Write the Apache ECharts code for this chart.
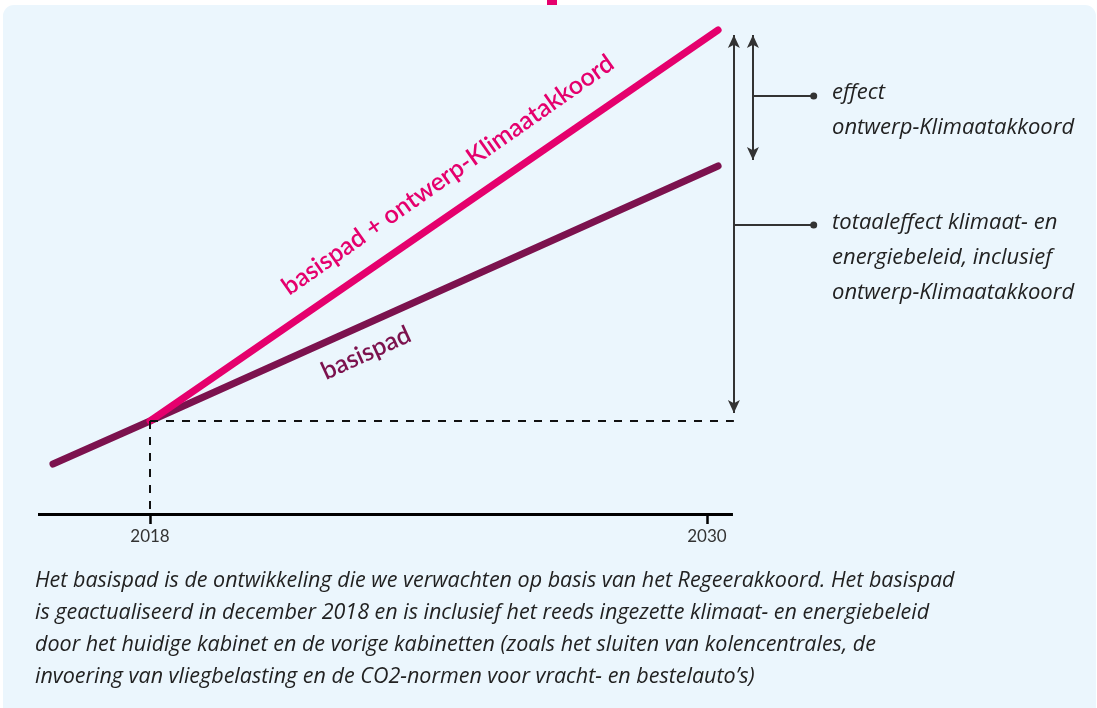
<!DOCTYPE html>
<html><head><meta charset="utf-8">
<script src="https://cdn.jsdelivr.net/npm/echarts@6/dist/echarts.min.js"></script>
<style>html,body{margin:0;padding:0;background:#fff}#c{width:1097px;height:708px}</style>
</head><body><div id="c"></div>
<script>
// ---- data ----
const years = [2015.91, 2018, 2030.24];
const basispad = [50, 93, 348];
const klimaat = [null, 93, 484];
const tickYears = [2018, 2030];
const lineLabels = ['basispad + ontwerp-Klimaatakkoord', 'basispad'];
const note1 = ['effect', 'ontwerp-Klimaatakkoord'];
const note2 = ['totaaleffect klimaat- en', 'energiebeleid, inclusief', 'ontwerp-Klimaatakkoord'];
const caption = [
 'Het basispad is de ontwikkeling die we verwachten op basis van het Regeerakkoord. Het basispad',
 'is geactualiseerd in december 2018 en is inclusief het reeds ingezette klimaat- en energiebeleid',
 'door het huidige kabinet en de vorige kabinetten (zoals het sluiten van kolencentrales, de',
 'invoering van vliegbelasting en de CO2-normen voor vracht- en bestelauto’s)'
];

const PURPLE = '#7c124e', MAGENTA = '#e5006d';
const FONT = 'Lato';
const TFONT = '"Open Sans"';
const xMin = 2015.587, xMax = 2032.5, axisEnd = 2030.56;
const xTotal = 2030.58, xEffect = 2030.99, xDot = 2032.3;
const pair = (xs, ys) => xs.map((x, i) => ys[i] == null ? null : [x, ys[i]]).filter(d => d);

const chart = echarts.init(document.getElementById('c'), null, {renderer: 'canvas'});
const dashed = {type: [8, 8], color: '#111', width: 2};
const arrowStyle = {color: '#333', width: 2, type: 'solid'};
const option = {
  animation: false,
  grid: {left: 38, right: 1097 - 823, top: 14, bottom: 194},
  xAxis: {type: 'value', min: xMin, max: xMax,
    axisLine: {show: false}, splitLine: {show: false},
    axisTick: {show: true, customValues: tickYears, length: 10, lineStyle: {color: '#000', width: 2.5}},
    axisLabel: {customValues: tickYears, formatter: v => String(v), margin: 14, fontFamily: FONT, fontSize: 17, color: '#333'}
  },
  yAxis: {type: 'value', min: 0, max: 500, show: false},
  graphic: [],
  series: [
    {type: 'line', name: 'basispad', data: pair(years, basispad), showSymbol: false, silent: true, z: 3,
     lineStyle: {color: PURPLE, width: 7, cap: 'round'},
     markLine: {silent: true, symbol: 'none', label: {show: false}, animation: false,
       data: [
         [{coord: [2018, basispad[1]], lineStyle: dashed}, {coord: [xTotal, basispad[1]]}],
         [{coord: [2018, basispad[1]], lineStyle: dashed}, {coord: [2018, 0]}],
         [{coord: [xMin, 0], lineStyle: {type: 'solid', color: '#000', width: 3}}, {coord: [axisEnd, 0]}]
       ]}
    },
    {type: 'line', name: 'klimaat', data: pair(years, klimaat), showSymbol: false, silent: true, z: 4,
     lineStyle: {color: MAGENTA, width: 7, cap: 'round'},
     markLine: {silent: true, label: {show: false}, animation: false,
       symbol: ['arrow', 'arrow'], symbolSize: [9, 13],
       itemStyle: {color: '#000'},
       data: [
         [{coord: [xTotal, 479], lineStyle: arrowStyle}, {coord: [xTotal, 101]}],
         [{coord: [xEffect, 479], lineStyle: arrowStyle}, {coord: [xEffect, 354]}],
         [{coord: [xEffect, 418], lineStyle: arrowStyle, symbol: 'none'}, {coord: [xDot, 418], symbol: 'circle', symbolSize: 7}],
         [{coord: [xTotal, 289], lineStyle: arrowStyle, symbol: 'none'}, {coord: [xDot, 289], symbol: 'circle', symbolSize: 7}]
       ]}
    }
  ]
};
chart.setOption(option);

const deg = d => d * Math.PI / 180;
const g = [
  {type: 'rect', z: -10, shape: {x: 3, y: 5, width: 1093, height: 720, r: 11}, style: {fill: '#ebf6fd'}},
  {type: 'rect', z: -10, shape: {x: 547, y: 0, width: 10, height: 5}, style: {fill: MAGENTA}},
  {type: 'text', x: 448, y: 175, rotation: deg(35), style: {text: lineLabels[0], fill: MAGENTA, font: '600 25px ' + FONT, align: 'center', verticalAlign: 'middle'}},
  {type: 'text', x: 366, y: 353, rotation: deg(24.5), style: {text: lineLabels[1], fill: PURPLE, font: '600 25px ' + FONT, align: 'center', verticalAlign: 'middle'}}
];
note1.forEach((t, i) => g.push({type: 'text', x: 832, y: 93 + i * 35, style: {text: t, fill: '#222', font: 'italic 22px ' + TFONT, verticalAlign: 'middle'}}));
note2.forEach((t, i) => g.push({type: 'text', x: 832, y: 223 + i * 35, style: {text: t, fill: '#222', font: 'italic 22px ' + TFONT, verticalAlign: 'middle'}}));
caption.forEach((t, i) => g.push({type: 'text', x: 35, y: 581 + i * 32, style: {text: t, fill: '#222', font: 'italic 21.5px ' + TFONT, verticalAlign: 'middle'}}));
chart.setOption({graphic: g});
</script></body></html>
